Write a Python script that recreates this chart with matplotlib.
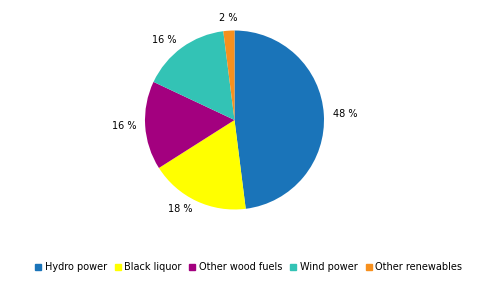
import matplotlib
matplotlib.use("Agg")
import matplotlib.pyplot as plt
from matplotlib.lines import Line2D

categories = ["Hydro power", "Black liquor", "Other wood fuels", "Wind power", "Other renewables"]
values = [48, 18, 16, 16, 2]
colors = ["#1a74b9", "#ffff00", "#a3007f", "#33c3b5", "#f7901e"]

W, H = 491, 287
fig = plt.figure(figsize=(W / 100, H / 100), dpi=100)
cx, cy, R = 234.5, 120, 89.5
half = R * 1.3
ax = fig.add_axes([(cx - half) / W, (H - cy - half) / H, 2 * half / W, 2 * half / H])
wedges, texts = ax.pie(values, colors=colors, startangle=90, counterclock=False,
                       labels=[f"{v} %" for v in values], labeldistance=1.1,
                       wedgeprops=dict(linewidth=0),
                       textprops=dict(fontsize=7, color="#000000"))
texts[-1].set_horizontalalignment("center")
texts[-1].set_y(texts[-1].get_position()[1] + 0.04)
ax.set_xlim(-1.3, 1.3)
ax.set_ylim(-1.3, 1.3)
ax.set_aspect("equal")
ax.axis("off")

handles = [Line2D([0], [0], marker="s", color="none", markerfacecolor=c,
                  markeredgecolor=c, markersize=5) for c in colors]
fig.legend(handles, categories, loc="center", bbox_to_anchor=(248.5 / W, 1 - 267 / H),
           ncol=5, frameon=False, fontsize=7, handlelength=0.7, handletextpad=0.35,
           columnspacing=0.75)

fig.savefig("out.png", dpi=100)
